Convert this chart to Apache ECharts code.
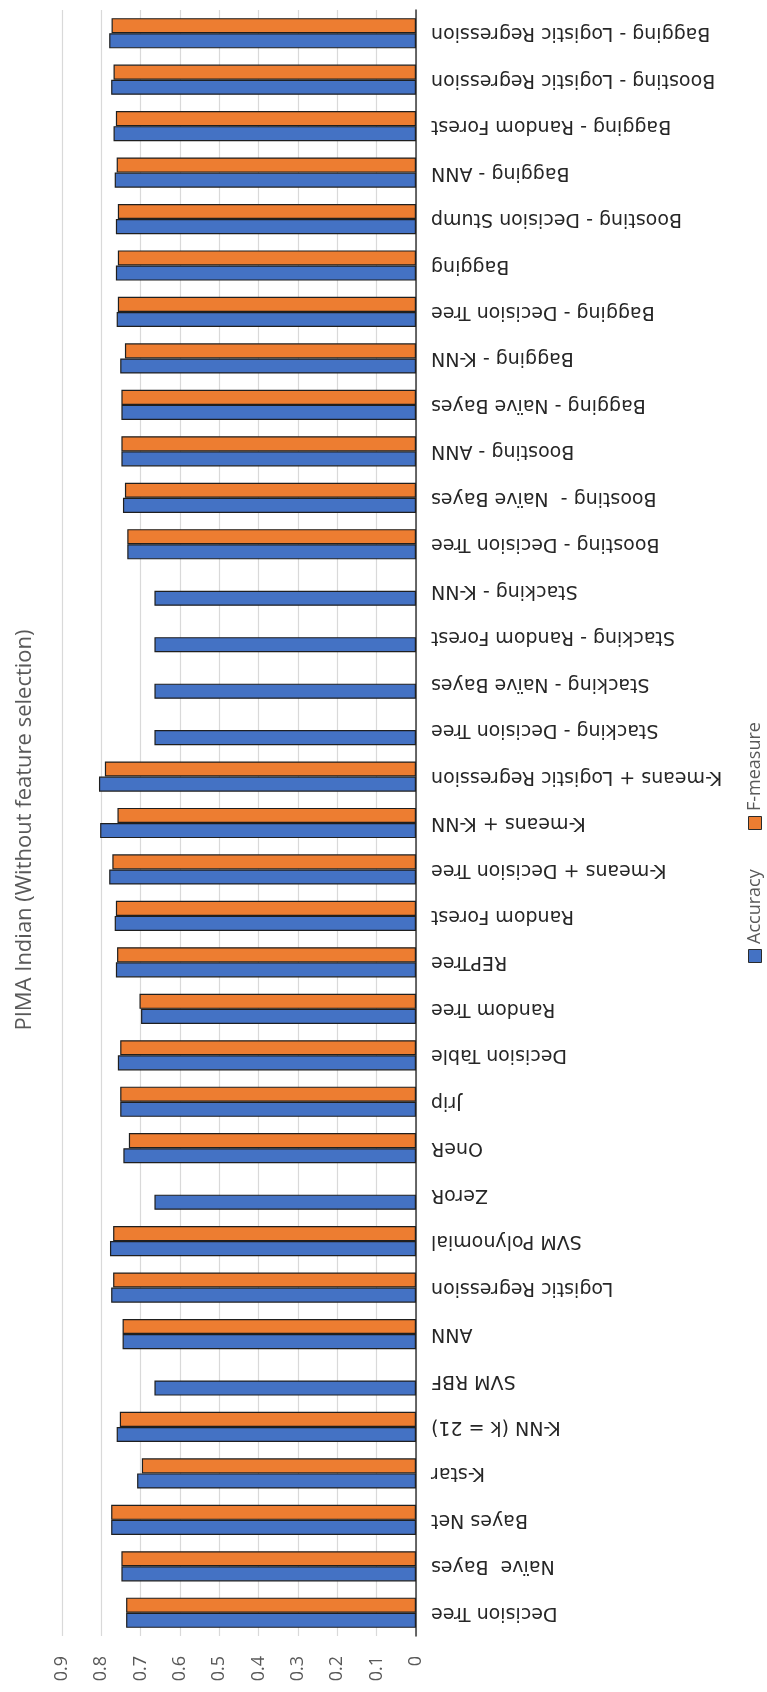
<!DOCTYPE html>
<html>
<head>
<meta charset="utf-8">
<style>
  html, body { margin: 0; padding: 0; background: #ffffff; }
  #chart { width: 767px; height: 1692px; }
</style>
<script src="https://cdn.jsdelivr.net/npm/echarts@6/dist/echarts.min.js"></script>
</head>
<body>
<div id="chart"></div>
<script>
// Classifiers, listed from the bottom of the chart to the top
const categories = [
  'Decision Tree', 'Naïve  Bayes', 'Bayes Net', 'K-star', 'K-NN (k = 21)', 'SVM RBF', 'ANN',
  'Logistic Regression', 'SVM Polynomial', 'ZeroR', 'OneR', 'Jrip', 'Decision Table',
  'Random Tree', 'REPTree', 'Random Forest', 'K-means + Decision Tree', 'K-means + K-NN',
  'K-means + Logistic Regression', 'Stacking - Decision Tree', 'Stacking - Naïve Bayes',
  'Stacking - Random Forest', 'Stacking - K-NN', 'Boosting - Decision Tree',
  'Boosting -  Naïve Bayes', 'Boosting - ANN', 'Bagging - Naïve Bayes', 'Bagging - K-NN',
  'Bagging - Decision Tree', 'Bagging', 'Boosting - Decision Stump', 'Bagging - ANN',
  'Bagging - Random Forest', 'Boosting - Logistic Regression', 'Bagging - Logistic Regression'
];

const accuracy = [
  0.737, 0.749, 0.775, 0.709, 0.761, 0.665, 0.746,
  0.775, 0.778, 0.665, 0.744, 0.752, 0.758,
  0.699, 0.763, 0.766, 0.780, 0.803,
  0.806, 0.665, 0.665,
  0.665, 0.665, 0.734,
  0.745, 0.749, 0.749, 0.752,
  0.761, 0.763, 0.763, 0.766,
  0.769, 0.775, 0.780
];

const fMeasure = [
  0.737, 0.749, 0.775, 0.697, 0.753, null, 0.746,
  0.770, 0.770, null, 0.730, 0.752, 0.752,
  0.703, 0.760, 0.763, 0.772, 0.759,
  0.791, null, null,
  null, null, 0.734,
  0.740, 0.749, 0.749, 0.740,
  0.758, 0.758, 0.758, 0.761,
  0.763, 0.769, 0.774
];

const seriesNames = ['Accuracy', 'F-measure'];
const seriesColors = ['#4472C4', '#ED7D31'];
const valueRange = [0, 0.9];
const valueStep = 0.1;
const titleText = 'PIMA Indian (Without feature selection)';

const chart = echarts.init(document.getElementById('chart'), null, { renderer: 'canvas' });

// Legend entries stacked bottom-to-top, text turned to read upwards
const legendItems = [];
const legendX = 755;
const legendStart = [956, 823];
seriesNames.forEach((name, i) => {
  legendItems.push({
    type: 'rect',
    shape: { x: legendX - 6.5, y: legendStart[i] - 6.5, width: 13, height: 13 },
    style: { fill: seriesColors[i], stroke: '#2b2b2b', lineWidth: 1 }
  });
  legendItems.push({
    type: 'text',
    x: legendX,
    y: legendStart[i] - 12,
    rotation: Math.PI / 2,
    style: {
      text: name,
      fill: '#595959',
      font: '18px "Open Sans"',
      textAlign: 'left',
      textVerticalAlign: 'middle'
    }
  });
});

const barStyle = color => ({ color: color, borderColor: '#1f1f1f', borderWidth: 1.2 });

chart.setOption({
  backgroundColor: '#ffffff',
  animation: false,
  grid: { left: 62, right: 351, top: 10, bottom: 56, containLabel: false },
  xAxis: {
    type: 'value',
    inverse: true,
    position: 'bottom',
    min: valueRange[0],
    max: valueRange[1],
    interval: valueStep,
    axisLine: { show: false },
    axisTick: { show: false },
    splitLine: { show: true, lineStyle: { color: '#d9d9d9', width: 1.2 } },
    axisLabel: {
      rotate: 90,
      margin: 20,
      color: '#595959',
      fontSize: 18,
      fontFamily: 'Open Sans',
      formatter: v => (v === 0 ? '0' : v.toFixed(1))
    }
  },
  yAxis: {
    type: 'category',
    position: 'right',
    data: categories,
    axisLine: { show: true, lineStyle: { color: '#3a3a3a', width: 1.5 } },
    axisTick: { show: false },
    axisLabel: {
      rotate: 180,
      margin: 15,
      color: '#262626',
      fontSize: 19,
      fontFamily: 'DejaVu Sans',
      interval: 0
    }
  },
  // F-measure is listed first so that, inside each band, it sits above Accuracy
  series: [
    {
      name: seriesNames[1],
      type: 'bar',
      data: fMeasure,
      barGap: '0%',
      barCategoryGap: '35%',
      itemStyle: barStyle(seriesColors[1])
    },
    {
      name: seriesNames[0],
      type: 'bar',
      data: accuracy,
      barGap: '0%',
      barCategoryGap: '35%',
      itemStyle: barStyle(seriesColors[0])
    }
  ],
  graphic: [
    {
      type: 'text',
      x: 25,
      y: 830,
      rotation: Math.PI / 2,
      style: {
        text: titleText,
        fill: '#595959',
        font: '22px "Open Sans"',
        textAlign: 'center',
        textVerticalAlign: 'middle'
      }
    },
    ...legendItems
  ]
});
</script>
</body>
</html>
